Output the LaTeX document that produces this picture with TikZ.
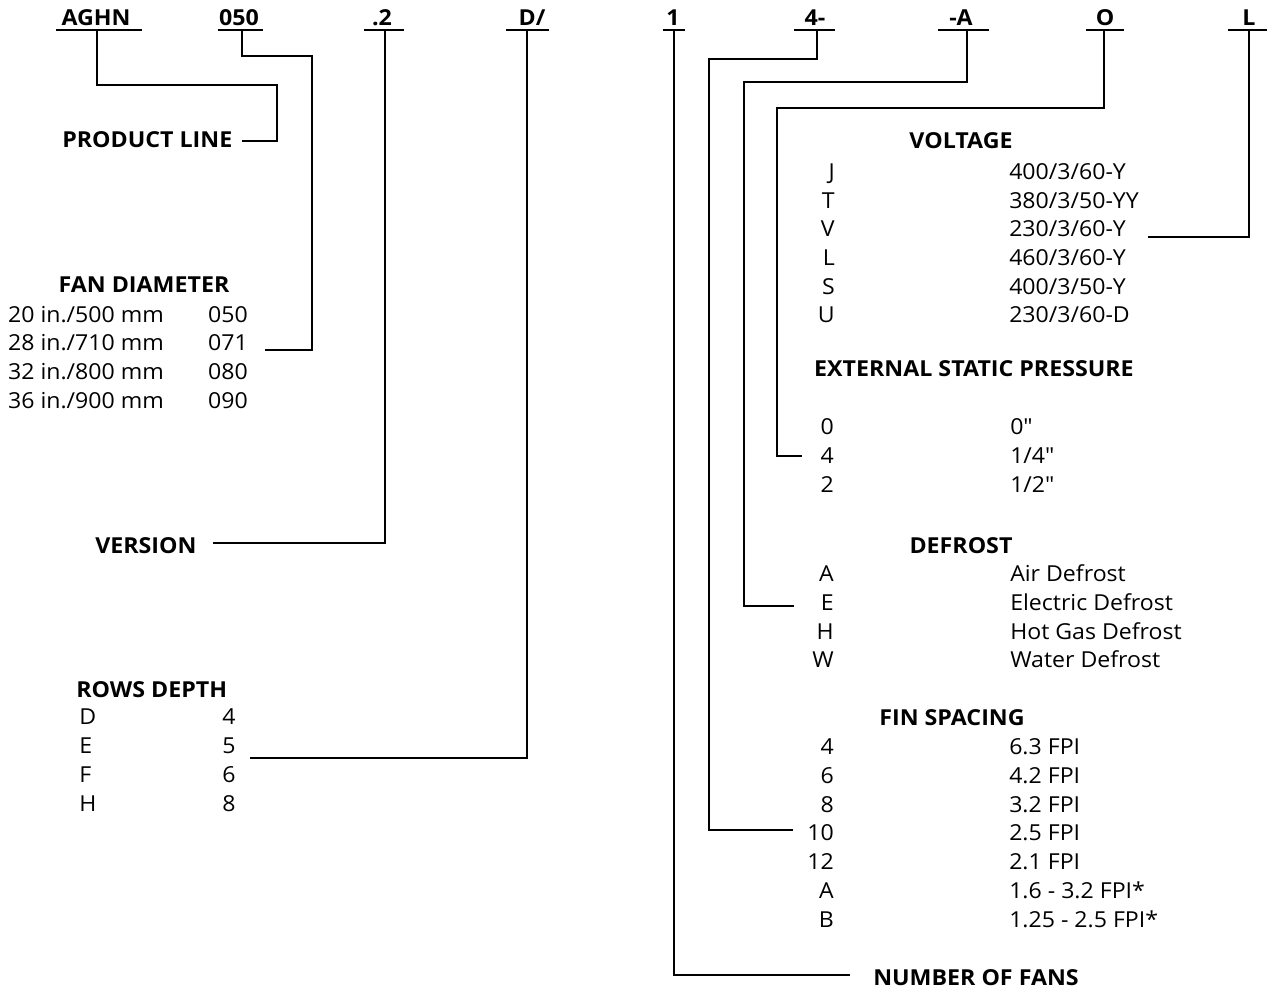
\documentclass[tikz,border=0pt]{standalone}
\usepackage{fontspec}
\setmainfont{Open Sans}[Ligatures=TeXOff,FakeStretch=1.05,BoldFeatures={FakeStretch=1.055}]
\begin{document}
\begin{tikzpicture}[x=0.75pt,y=-0.75pt,
  txt/.style={inner sep=0pt,font=\fontsize{16.5}{18}\selectfont},
  hd/.style={inner sep=0pt,font=\bfseries\fontsize{16.5}{18}\selectfont},
  ln/.style={line width=2pt},
  ul/.style={line width=2pt}]
\useasboundingbox (0,0) rectangle (1268,991);

% ---- code letters on top
\node[hd,anchor=base] (cAGHN) at (96,26) {AGHN};
\node[hd,anchor=base] (c050) at (239,26) {050};
\node[hd,anchor=base] (c2) at (382,26) {.2};
\node[hd,anchor=base] (cD) at (532,26) {D/};
\node[hd,anchor=base] (c1) at (673,26) {1};
\node[hd,anchor=base] (c4) at (815,26) {4-};
\node[hd,anchor=base] (cA) at (961,26) {-A};
\node[hd,anchor=base] (cO) at (1105,26) {O};
\node[hd,anchor=base] (cL) at (1249,26) {L};

\draw[ul] (56,30) -- (142,30);
\draw[ul] (218,30) -- (263,30);
\draw[ul] (364,30) -- (404,30);
\draw[ul] (506,30) -- (549,30);
\draw[ul] (663,30) -- (685,30);
\draw[ul] (794,30) -- (835,30);
\draw[ul] (938,30) -- (989,30);
\draw[ul] (1086,30) -- (1124,30);
\draw[ul] (1228,30) -- (1267,30);

\coordinate (uAGHN) at (97,30);
\coordinate (u050) at (242,30);
\coordinate (u2) at (385,30);
\coordinate (uD) at (527,30);
\coordinate (u1) at (674,30);
\coordinate (u4) at (817,30);
\coordinate (uA) at (967,30);
\coordinate (uO) at (1104,30);
\coordinate (uL) at (1249,30);

% ---- PRODUCT LINE
\node[hd,anchor=base west] (pl) at (62,148) {PRODUCT LINE};
\coordinate (ePL) at (242,141);

% ---- FAN DIAMETER
\node[hd,anchor=base] (fd) at (144,293) {FAN DIAMETER};
\node[txt,anchor=base] (fd1) at (86,323) {20 in./500 mm};
\node[txt,anchor=base] (fd2) at (86,351) {28 in./710 mm};
\node[txt,anchor=base] (fd3) at (86,380) {32 in./800 mm};
\node[txt,anchor=base] (fd4) at (86,408) {36 in./900 mm};
\node[txt,anchor=base] (fc1) at (228,323) {050};
\node[txt,anchor=base] (fc2) at (228,351) {071};
\node[txt,anchor=base] (fc3) at (228,380) {080};
\node[txt,anchor=base] (fc4) at (228,408) {090};
\coordinate (eFD) at (265,350);

% ---- VERSION
\node[hd,anchor=base west] (ver) at (95,553) {VERSION};
\coordinate (eVER) at (213,543);

% ---- ROWS DEPTH
\node[hd,anchor=base west] (rd) at (76,697) {ROWS DEPTH};
\node[txt,anchor=base west] (rdD) at (79,724) {D};
\node[txt,anchor=base west] (rdE) at (79,753) {E};
\node[txt,anchor=base west] (rdF) at (79,782) {F};
\node[txt,anchor=base west] (rdH) at (79,811) {H};
\node[txt,anchor=base] (rd4) at (229,724) {4};
\node[txt,anchor=base] (rd5) at (229,753) {5};
\node[txt,anchor=base] (rd6) at (229,782) {6};
\node[txt,anchor=base] (rd8) at (229,811) {8};
\coordinate (eRD) at (250,758);

% ---- VOLTAGE
\node[hd,anchor=base] (vo) at (961,149) {VOLTAGE};
\foreach \c/\v/\y [count=\i] in {J/400\slash 3\slash 60-Y/180, T/380\slash 3\slash 50-YY/209, V/230\slash 3\slash 60-Y/237, L/460\slash 3\slash 60-Y/266, S/400\slash 3\slash 50-Y/295, U/230\slash 3\slash 60-D/323}{
  \node[txt,anchor=base east] (vc\i) at (835,\y) {\c};
  \node[txt,anchor=base west] (vv\i) at (1009,\y) {\v};
}
\coordinate (eV) at (1148,237);

% ---- EXTERNAL STATIC PRESSURE
\node[hd,anchor=base] (esp) at (974,377) {EXTERNAL STATIC PRESSURE};
\node[txt,anchor=base east] (ec1) at (834,435) {0};
\node[txt,anchor=base east] (ec2) at (834,463) {4};
\node[txt,anchor=base east] (ec3) at (834,492) {2};
\node[txt,anchor=base west] (ev1) at (1010,435) {0"};
\node[txt,anchor=base west] (ev2) at (1010,463) {1/4"};
\node[txt,anchor=base west] (ev3) at (1010,492) {1/2"};
\coordinate (eESP) at (802,456);

% ---- DEFROST
\node[hd,anchor=base] (df) at (961,553) {DEFROST};
\node[txt,anchor=base east] (dc1) at (834,581) {A};
\node[txt,anchor=base east] (dc2) at (834,610) {E};
\node[txt,anchor=base east] (dc3) at (834,639) {H};
\node[txt,anchor=base east] (dc4) at (834,667) {W};
\node[txt,anchor=base west] (dv1) at (1010,581) {Air Defrost};
\node[txt,anchor=base west] (dv2) at (1010,610) {Electric Defrost};
\node[txt,anchor=base west] (dv3) at (1010,639) {Hot Gas Defrost};
\node[txt,anchor=base west] (dv4) at (1010,667) {Water Defrost};
\coordinate (eDF) at (794,606);

% ---- FIN SPACING
\node[hd,anchor=base] (fs) at (952,725) {FIN SPACING};
\foreach \c/\v/\y [count=\i] in {4/6.3 FPI/754, 6/4.2 FPI/783, 8/3.2 FPI/812, 10/2.5 FPI/840, 12/2.1 FPI/869, A/1.6 - 3.2 FPI*/898, B/1.25 - 2.5 FPI*/927}{
  \node[txt,anchor=base east] (fsc\i) at (834,\y) {\c};
  \node[txt,anchor=base west] (fsv\i) at (1009,\y) {\v};
}
\coordinate (eFS) at (793,830);

% ---- NUMBER OF FANS
\node[hd,anchor=base west] (nf) at (873,985) {NUMBER OF FANS};
\coordinate (eNF) at (850,975);

% ---- connectors
\draw[ln] (uAGHN) |- (277,85) |- (ePL);
\draw[ln] (u050) |- (312,56) |- (eFD);
\draw[ln] (u2) |- (eVER);
\draw[ln] (uD) |- (eRD);
\draw[ln] (u1) |- (eNF);
\draw[ln] (u4) |- (709,59) |- (eFS);
\draw[ln] (uA) |- (744,82) |- (eDF);
\draw[ln] (uO) |- (777,108) |- (eESP);
\draw[ln] (uL) |- (eV);
\end{tikzpicture}
\end{document}
